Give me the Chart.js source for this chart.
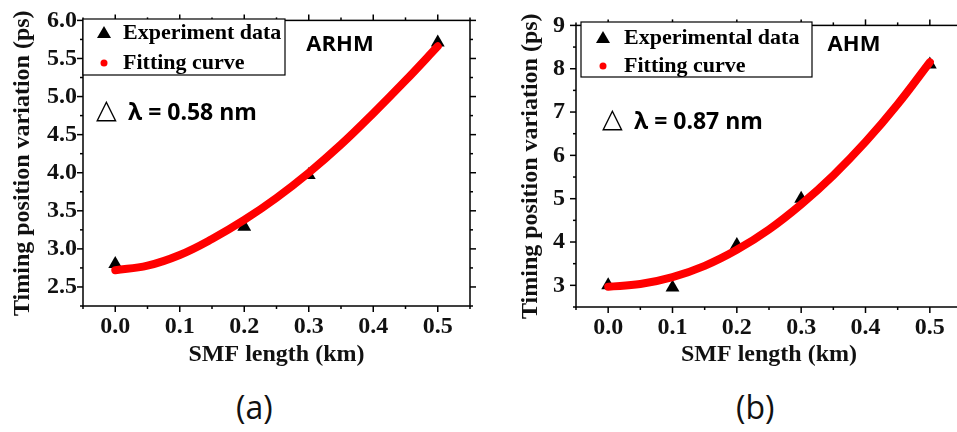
<!DOCTYPE html>
<html>
<head>
<meta charset="utf-8">
<script src="https://cdn.jsdelivr.net/npm/chart.js@4.4.1/dist/chart.umd.min.js"></script>
<style>
    html, body { margin: 0; padding: 0; background: #fff; }
    body { width: 957px; height: 432px; position: relative; overflow: hidden; }
    canvas { position: absolute; top: 0; }
    #chartA { left: 0; }
    #chartB { left: 480px; }
    .panel-label { position: absolute; font-family: 'Open Sans', sans-serif; font-size: 32px; color: #111; line-height: 1; }
</style>
</head>
<body>
<canvas id="chartA" width="480" height="380"></canvas>
<canvas id="chartB" width="490" height="380"></canvas>
<div class="panel-label" style="left:236px; top:391px;">(a)</div>
<div class="panel-label" style="left:736px; top:391px;">(b)</div>

<script>
// SMF length (km)
const fitX = [0, 0.05, 0.1, 0.15, 0.2, 0.25, 0.3, 0.35, 0.4, 0.45, 0.5];

// (a) ARHM
const expXA = [0, 0.2, 0.3, 0.5];
const expYA = [2.80, 3.29, 3.97, 5.71];
const fitYA = [2.72, 2.78, 2.92, 3.13, 3.38, 3.67, 4.00, 4.37, 4.78, 5.21, 5.66];

// (b) AHM
const expXB = [0, 0.1, 0.2, 0.3, 0.5];
const expYB = [3.00, 2.95, 3.93, 5.00, 8.10];
const fitYB = [2.97, 3.03, 3.19, 3.45, 3.82, 4.29, 4.87, 5.54, 6.31, 7.18, 8.15];

// ticks
const xTicks = [0, 0.1, 0.2, 0.3, 0.4, 0.5];
const xTickLabels = ['0.0', '0.1', '0.2', '0.3', '0.4', '0.5'];
const xMinor = [-0.05, 0.05, 0.15, 0.25, 0.35, 0.45, 0.55];
const yTicksA = [2.5, 3.0, 3.5, 4.0, 4.5, 5.0, 5.5, 6.0];
const yTickLabelsA = ['2.5', '3.0', '3.5', '4.0', '4.5', '5.0', '5.5', '6.0'];
const yMinorA = [2.25, 2.75, 3.25, 3.75, 4.25, 4.75, 5.25, 5.75];
const yTicksB = [3, 4, 5, 6, 7, 8, 9];
const yTickLabelsB = ['3', '4', '5', '6', '7', '8', '9'];
const yMinorB = [2.5, 3.5, 4.5, 5.5, 6.5, 7.5, 8.5];

const SERIF = "'Liberation Serif', 'Times New Roman', serif";
const SANS = "'Open Sans', 'Liberation Sans', sans-serif";

const framePlugin = {
    id: 'frame',
    beforeDatasetsDraw(chart, args, o) {
        const { ctx, chartArea: a, scales: { x, y } } = chart;
        ctx.save();
        ctx.strokeStyle = '#000';
        ctx.lineWidth = 1.5;
        ctx.strokeRect(a.left, a.top, a.right - a.left, a.bottom - a.top);
        const line = (x1, y1, x2, y2) => { ctx.beginPath(); ctx.moveTo(x1, y1); ctx.lineTo(x2, y2); ctx.stroke(); };
        const xt = (vals, len) => vals.forEach(v => {
            const px = x.getPixelForValue(v);
            line(px, a.bottom, px, a.bottom + len);
            line(px, a.top, px, a.top - len);
        });
        const yt = (vals, len) => vals.forEach(v => {
            const py = y.getPixelForValue(v);
            line(a.left, py, a.left - len, py);
            line(a.right, py, a.right + len, py);
        });
        xt(o.xMajor, 6); xt(o.xMinor, 3);
        yt(o.yMajor, 6); yt(o.yMinor, 3);
        ctx.restore();
    },
    afterDatasetsDraw(chart, args, o) {
        const { ctx } = chart;
        const L = o.legend;
        ctx.save();
        // legend box
        ctx.fillStyle = '#fff';
        ctx.fillRect(L.x, L.y, L.w, L.h);
        ctx.strokeStyle = '#000';
        ctx.lineWidth = 1.2;
        ctx.strokeRect(L.x, L.y, L.w, L.h);
        ctx.fillStyle = '#000';
        ctx.beginPath();
        ctx.moveTo(L.mx, L.row1 - 7);
        ctx.lineTo(L.mx + 7, L.row1 + 5);
        ctx.lineTo(L.mx - 7, L.row1 + 5);
        ctx.closePath();
        ctx.fill();
        ctx.fillStyle = '#ff0000';
        ctx.beginPath();
        ctx.arc(L.mx, L.row2, 3.5, 0, Math.PI * 2);
        ctx.fill();
        ctx.fillStyle = '#000';
        ctx.font = `bold 22px ${SERIF}`;
        ctx.textBaseline = 'middle';
        ctx.textAlign = 'left';
        ctx.fillText(o.expLabel, L.tx, L.row1);
        ctx.fillText('Fitting curve', L.tx, L.row2);

        // mode name
        ctx.font = `bold 22px ${SANS}`;
        ctx.textAlign = 'center';
        ctx.fillText(o.mode.text, o.mode.x, o.mode.y);

        // delta lambda
        ctx.textAlign = 'left';
        ctx.font = `27px 'DejaVu Sans', sans-serif`;
        ctx.fillText('△', o.dl.x, o.dl.y);
        ctx.font = `bold 23px ${SANS}`;
        ctx.fillText(o.dl.text, o.dl.tx, o.dl.y + 2);
        ctx.restore();
    }
};

const makeChart = (id, c) => new Chart(document.getElementById(id), {
    type: 'scatter',
    data: {
        datasets: [
            {
                label: 'Fitting curve',
                data: fitX.map((v, i) => ({ x: v, y: c.fitY[i] })),
                showLine: true,
                borderColor: '#ff0000',
                borderWidth: 8,
                borderCapStyle: 'round',
                tension: 0.4,
                pointRadius: 0,
                order: 0
            },
            {
                label: c.expLabel,
                data: c.expX.map((v, i) => ({ x: v, y: c.expY[i] })),
                pointStyle: 'triangle',
                pointRadius: 8,
                backgroundColor: '#000',
                borderColor: '#000',
                borderWidth: 0,
                order: 1
            }
        ]
    },
    options: {
        responsive: false,
        animation: false,
        events: [],
        layout: { padding: { top: 19, right: c.padRight, left: 0, bottom: 0 } },
        plugins: {
            legend: { display: false },
            tooltip: { enabled: false },
            frame: {
                xMajor: xTicks, xMinor: xMinor, yMajor: c.yTicks, yMinor: c.yMinor,
                expLabel: c.expLabel, legend: c.legend, mode: c.mode, dl: c.dl
            }
        },
        scales: {
            x: {
                type: 'linear',
                min: -0.05,
                max: 0.55,
                grid: { display: false, drawTicks: false },
                border: { display: false },
                afterBuildTicks: s => { s.ticks = xTicks.map(v => ({ value: v })); },
                afterFit: s => { s.height = c.xAxisH; },
                ticks: {
                    color: '#111',
                    padding: 6,
                    maxRotation: 0,
                    font: { family: SERIF, size: 24, weight: 'bold' },
                    callback: (v, i) => xTickLabels[i]
                },
                title: {
                    display: true,
                    text: 'SMF length (km)',
                    color: '#111',
                    font: { family: SERIF, size: 24, weight: 'bold' },
                    padding: { top: 0, bottom: 11 }
                }
            },
            y: {
                type: 'linear',
                min: c.yMin,
                max: c.yMax,
                grid: { display: false, drawTicks: false },
                border: { display: false },
                afterBuildTicks: s => { s.ticks = c.yTicks.map(v => ({ value: v })); },
                afterFit: s => { s.width = c.yAxisW; },
                ticks: {
                    color: '#111',
                    padding: c.yPad,
                    font: { family: SERIF, size: 24, weight: 'bold' },
                    callback: (v, i) => c.yTickLabels[i]
                },
                title: {
                    display: true,
                    text: 'Timing position variation (ps)',
                    color: '#111',
                    font: { family: SERIF, size: 24, weight: 'bold' },
                    padding: { top: c.yTitlePad, bottom: 0 }
                }
            }
        }
    },
    plugins: [framePlugin]
});

makeChart('chartA', {
    expX: expXA, expY: expYA, fitY: fitYA,
    expLabel: 'Experiment data',
    yMin: 2.25, yMax: 6.0, yTicks: yTicksA, yTickLabels: yTickLabelsA, yMinor: yMinorA,
    padRight: 10, yAxisW: 83, xAxisH: 74, yPad: 6, yTitlePad: 8,
    legend: { x: 83, y: 19, w: 202, h: 56, mx: 104, tx: 123, row1: 33, row2: 63 },
    mode: { text: 'ARHM', x: 340, y: 45 },
    dl: { text: 'λ = 0.58 nm', x: 96, tx: 128, y: 111 }
});

makeChart('chartB', {
    expX: expXB, expY: expYB, fitY: fitYB,
    expLabel: 'Experimental data',
    yMin: 2.5, yMax: 9, yTicks: yTicksB, yTickLabels: yTickLabelsB, yMinor: yMinorB,
    padRight: 7, yAxisW: 96, xAxisH: 73, yPad: 11, yTitlePad: 36,
    legend: { x: 101, y: 22, w: 231, h: 55, mx: 123, tx: 144, row1: 38, row2: 66 },
    mode: { text: 'AHM', x: 374, y: 45 },
    dl: { text: 'λ = 0.87 nm', x: 122, tx: 154, y: 120 }
});
</script>
</body>
</html>
